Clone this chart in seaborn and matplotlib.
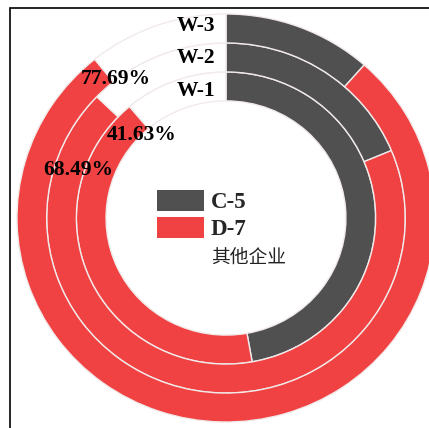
import matplotlib
matplotlib.use("Agg")
import matplotlib.pyplot as plt
from matplotlib.patches import Patch, Rectangle
import seaborn as sns

# ---- data ----
rings = ["W-1", "W-2", "W-3"]
c5 = [47.2, 18.7, 11.5]
d7 = [41.63, 68.49, 77.69]
other = [100 - a - b for a, b in zip(c5, d7)]
legend_labels = ["C-5", "D-7", "其他企业"]
pct_labels = ["41.63%", "68.49%", "77.69%"]

sns.set_theme(style="white")
palette = sns.color_palette(["#505050", "#F04242", "#FFFFFF"])

fig = plt.figure(figsize=(4.29, 4.28), dpi=100)
ax = fig.add_axes([0, 0, 1, 1])

radii = [0.716, 0.858, 1.0]
width = 0.142
for r, a, b, c in zip(radii, c5, d7, other):
    ax.pie([a, b, c], radius=r, startangle=90, counterclock=False,
           colors=palette,
           wedgeprops=dict(width=width, edgecolor="#f2eaea", linewidth=1.0))

ax.set_aspect("auto")
ax.set_xlim(-1.0813, 0.9713)
ax.set_ylim(-1.0294, 1.0686)
ax.axis("off")

serif = "Liberation Serif"
# ring name labels
ring_label_y = [0.623, 0.784, 0.941]
for name, y in zip(rings, ring_label_y):
    ax.text(-0.053, y, name, ha="right", va="center", fontsize=15.5,
            fontweight="bold", family=serif, color="black")

# percentage labels
pct_pos = [(-0.402, 0.407), (-0.708, 0.235), (-0.526, 0.681)]
for lab, (x, y) in zip(pct_labels, pct_pos):
    ax.text(x, y, lab, ha="center", va="center", fontsize=15.5,
            fontweight="bold", family=serif, color="black")

handles = [Patch(facecolor=palette[0], edgecolor="none"),
           Patch(facecolor=palette[1], edgecolor="none"),
           Patch(facecolor="white", edgecolor="none")]
leg = ax.legend(handles, legend_labels, loc="upper left",
                bbox_to_anchor=(157 / 429, 1 - 190 / 428),
                frameon=False, fontsize=16.5, handlelength=2.05, handleheight=1.0,
                handletextpad=0.3, labelspacing=0.18, borderpad=0, borderaxespad=0)
texts = leg.get_texts()
for t in texts[:2]:
    t.set_family(serif)
    t.set_fontweight("bold")
texts[2].set_family(["Noto Sans CJK SC", "DejaVu Sans"])
texts[2].set_fontsize(13.5)
texts[2].set_color("#222222")

# frame border (cropped at right and bottom)
fig.add_artist(Rectangle((10 / 429, -0.1), 1.2, 1 - 8 / 428 + 0.1,
                         transform=fig.transFigure, fill=False,
                         edgecolor="black", linewidth=1.2, clip_on=False))

fig.savefig("out.png", dpi=100)
